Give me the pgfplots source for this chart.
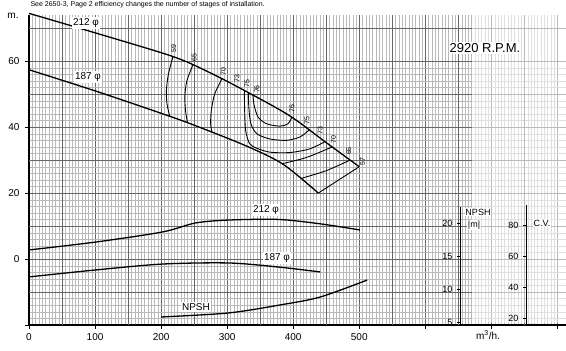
\documentclass[border=0pt]{standalone}
\usepackage{fontspec}
\setmainfont{Liberation Sans}
\usepackage{pgfplots}
\pgfplotsset{compat=1.18}
\pgfplotsset{/pgf/number format/assume math mode=true}

\begin{document}
\begin{tikzpicture}[x=1pt,y=1pt]
\useasboundingbox (0,0) rectangle (566,351);
\fill[white] (0,0) rectangle (566,351);

% ---------- main axis: head (m) against flow (m3/h) ----------
\begin{axis}[
  at={(29pt,26pt)}, anchor=south west,
  scale only axis, width=537pt, height=310pt,
  xmin=0, xmax=813, ymin=-20, ymax=74,
  axis x line*=bottom, axis y line*=left,
  axis line style={-, line width=1.1pt},
  xtick={0,100,...,800},
  xticklabels={0,100,200,300,400,500,{},{},{}},
  ytick={-20,0,20,40,60},
  yticklabels={{},0,20,40,60},
  extra x ticks={50,150,...,750},
  extra x tick labels={},
  extra y ticks={-10,10,30,50,70},
  extra y tick labels={},
  extra tick style={major tick length=0pt, grid=major},
  minor x tick num=19, minor y tick num=9,
  minor tick length=0pt, major tick length=4pt,
  tick align=outside,
  grid=both,
  minor grid style={gray!55, line width=0.25pt},
  major grid style={black!60, line width=0.7pt},
  tick style={black, line width=0.8pt},
  ticklabel style={font=\fontsize{10}{12}\selectfont},
  xticklabel style={yshift=-1pt},
  yticklabel style={xshift=-2pt},
  clip=false,
]
% lighter paper on the right
\fill[white, opacity=0.55] (axis cs:670,-19.4) rectangle (axis cs:813,74);

% head curves
\addplot[black, line width=1.3pt, smooth] coordinates {(0,74.5)(100,68.6)(218,61.4)(275,56.4)(330,50.7)(395,43.4)(450,35.3)(500,28)};
\addplot[black, line width=1.3pt, smooth] coordinates {(0,57.4)(100,51)(200,44.2)(250,40.6)(330,34.2)(385,28.7)(438,20)};

% iso-efficiency lines
\addplot[black, line width=0.9pt, smooth] coordinates {(218,61.4)(211,56)(208,51)(209,47)(213,43.3)};
\addplot[black, line width=0.9pt, smooth] coordinates {(248,58.8)(239,54)(236,49.5)(237,45)(240,41.3)};
\addplot[black, line width=0.9pt, smooth] coordinates {(292,54.6)(281,50)(276,45)(275,41)(277,38.4)};
\addplot[black, line width=0.9pt, smooth] coordinates {(326,51.1)(326.5,45)(328,39)(334,35)(345,33.6)(365,32.4)(395,32.3)(425,33.4)(448,35.6)};
\addplot[black, line width=0.9pt, smooth] coordinates {(332,50.5)(333,45.5)(336,41)(345,38)(365,36.4)(390,36)(410,37)(424,39.1)};
\addplot[black, line width=0.9pt, smooth] coordinates {(339,49.7)(341,46.5)(347,43)(360,41)(380,40.3)(392,41)(398,43.0)};
\addplot[black, line width=0.9pt, smooth] coordinates {(383,28.9)(420,30.8)(459,34.0)};
\addplot[black, line width=0.9pt, smooth] coordinates {(411,24.4)(450,26.8)(486,30.0)};
\addplot[black, line width=0.9pt] coordinates {(438,20)(500,28)};

% efficiency labels
\begin{scope}[every node/.style={font=\fontsize{7}{8}\selectfont, rotate=90, anchor=west, inner sep=0.3pt}]
\node at (axis cs:219,62.4) {59};
\node at (axis cs:250,59.8) {65};
\node at (axis cs:294,55.6) {70};
\node at (axis cs:315,53.4) {73};
\node at (axis cs:330,51.8) {75};
\node at (axis cs:345,50.2) {76};
\node at (axis cs:398,44.2) {76};
\node at (axis cs:421,40.6) {75};
\node at (axis cs:441,37.6) {73};
\node at (axis cs:461,34.8) {70};
\node at (axis cs:484,31.4) {65};
\node at (axis cs:505,28.2) {57};
\end{scope}
\end{axis}

% ---------- overlay: power (C.V.) ----------
\begin{axis}[
  at={(29pt,26pt)}, anchor=south west,
  scale only axis, width=537pt, height=310pt,
  xmin=0, xmax=813, ymin=15.48, ymax=215.5,
  hide axis, clip=false,
]
\addplot[black, line width=1.3pt, smooth] coordinates {(0,63.9)(101,69.0)(202,75.5)(252,81.3)(302,83.2)(377,83.6)(440,80.8)(501,76.8)};
\addplot[black, line width=1.3pt, smooth] coordinates {(0,46.5)(101,51.0)(202,54.8)(302,55.5)(377,52.9)(441,49.7)};
\end{axis}

% ---------- overlay: NPSH (m) ----------
\begin{axis}[
  at={(29pt,26pt)}, anchor=south west,
  scale only axis, width=537pt, height=310pt,
  xmin=0, xmax=813, ymin=4.545, ymax=51.52,
  hide axis, clip=false,
]
\addplot[black, line width=1.3pt, smooth] coordinates {(200,5.76)(301,6.36)(380,7.58)(441,8.79)(512,11.36)};
\end{axis}

% ---------- NPSH scale ----------
\begin{axis}[
  at={(460pt,26pt)}, anchor=south west,
  scale only axis, width=1pt, height=118pt,
  xmin=0, xmax=1, ymin=4.545, ymax=22.42,
  axis x line=none, axis y line=left,
  axis line style={-, line width=1pt},
  ytick={5,10,15,20},
  tick align=outside, major tick length=3pt,
  tick style={black, line width=0.8pt},
  yticklabel style={font=\fontsize{9}{10}\selectfont, xshift=-1pt},
]
\end{axis}

% ---------- C.V. scale ----------
\begin{axis}[
  at={(526pt,26pt)}, anchor=south west,
  scale only axis, width=1pt, height=120pt,
  xmin=0, xmax=1, ymin=15.48, ymax=92.9,
  axis x line=none, axis y line=left,
  axis line style={-, line width=1pt},
  ytick={20,40,60,80},
  tick align=outside, major tick length=3pt,
  tick style={black, line width=0.8pt},
  yticklabel style={font=\fontsize{9}{10}\selectfont, xshift=-1pt},
]
\end{axis}

% ---------- texts ----------
\node[anchor=west, font=\fontsize{7}{8}\selectfont] at (27,346) {See 2650-3, Page 2 efficiency changes the number of stages of installation.};
\node[font=\fontsize{10}{12}\selectfont] at (13,335) {m.};
\node[font=\fontsize{13}{15}\selectfont, fill=white, inner sep=1pt] at (485,303) {2920 R.P.M.};
\node[font=\fontsize{10}{12}\selectfont] at (488,16) {m\textsuperscript{3}/h.};
\node[font=\fontsize{9}{10}\selectfont, fill=white, inner sep=0.5pt] at (478,139) {NPSH};
\node[font=\fontsize{9}{10}\selectfont, fill=white, inner sep=0.5pt] at (474,126) {|m|};
\node[font=\fontsize{9}{10}\selectfont, fill=white, inner sep=0.5pt] at (542,128) {C.V.};
\node[font=\fontsize{10}{12}\selectfont, fill=white, inner sep=1pt] at (86,328) {212 φ};
\node[font=\fontsize{10}{12}\selectfont, fill=white, inner sep=1pt] at (88,274) {187 φ};
\node[font=\fontsize{10}{12}\selectfont, fill=white, inner sep=1pt] at (266,141) {212 φ};
\node[font=\fontsize{10}{12}\selectfont, fill=white, inner sep=1pt] at (277,93) {187 φ};
\node[font=\fontsize{10}{12}\selectfont, fill=white, inner sep=1pt] at (196,44) {NPSH};
\end{tikzpicture}
\end{document}
